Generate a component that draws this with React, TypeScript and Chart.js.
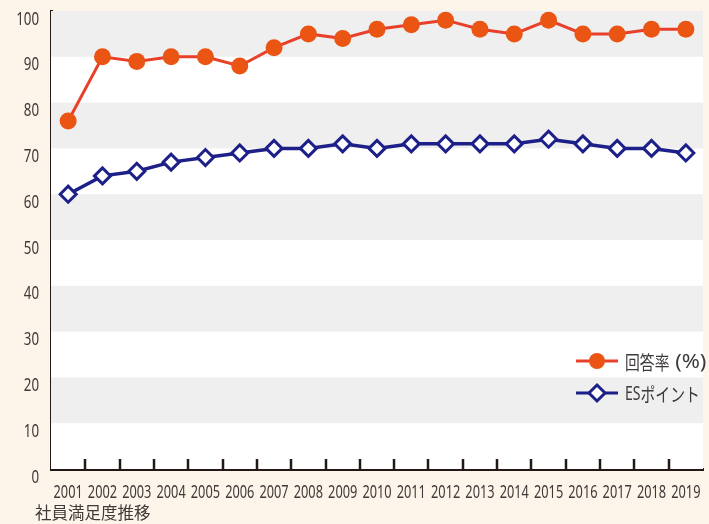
import React, { useEffect, useRef } from "react";
import { Chart, registerables } from "chart.js";

Chart.register(...registerables);

const years = ["2001","2002","2003","2004","2005","2006","2007","2008","2009","2010","2011","2012","2013","2014","2015","2016","2017","2018","2019"];
const responseRate = [76, 90, 89, 90, 90, 88, 92, 95, 94, 96, 97, 98, 96, 95, 98, 95, 95, 96, 96];
const esPoints = [60, 64, 65, 67, 68, 69, 70, 70, 71, 70, 71, 71, 71, 71, 72, 71, 70, 70, 69];
const yTickValues = [0, 10, 20, 30, 40, 50, 60, 70, 80, 90, 100];
const seriesNames = ["回答率 (%)", "ESポイント"];
const caption = "社員満足度推移";

const FONT = '"Noto Sans", "Open Sans", sans-serif';
const CJK_FONT = '"Noto Sans CJK JP", "Noto Sans", sans-serif';
const TEXT = "#3e3a39";
const AXIS = "#231815";
const ORANGE_LINE = "#e8402a";
const ORANGE_PT = "#ea5514";
const NAVY = "#1d2088";
const BAND = "#efefef";
const CREAM = "#fdf5e9";

function drawCondensed(ctx: CanvasRenderingContext2D, text: string, x: number, y: number, align: CanvasTextAlign, sx: number, font: string) {
  ctx.save();
  ctx.font = font;
  ctx.textAlign = align;
  ctx.textBaseline = "middle";
  ctx.fillStyle = TEXT;
  ctx.scale(sx, 1);
  ctx.fillText(text, x / sx, y);
  ctx.restore();
}

// mixed text: CJK, latin letters and symbols each get their own horizontal scale
function drawMixed(ctx: CanvasRenderingContext2D, text: string, x: number, y: number) {
  const runs = text.match(/[\u3000-\u9fff\uff00-\uffef]+|[A-Za-z0-9]+|[^A-Za-z0-9\u3000-\u9fff\uff00-\uffef]+/g) || [];
  let cx = x;
  for (const run of runs) {
    let font = `19px ${FONT}`;
    let sx = 1.15;
    if (/[\u3000-\u9fff\uff00-\uffef]/.test(run)) { font = `19px ${CJK_FONT}`; sx = 0.78; }
    else if (/[A-Za-z0-9]/.test(run)) { sx = 0.74; }
    ctx.save();
    ctx.font = font;
    const w = ctx.measureText(run).width * sx;
    ctx.restore();
    drawCondensed(ctx, run, cx, y, "left", sx, font);
    cx += w;
  }
}

const bandsPlugin = {
  id: "bands",
  beforeDatasetsDraw(chart: any) {
    const { ctx, chartArea } = chart;
    const y = chart.scales.y;
    ctx.save();
    ctx.fillStyle = "#ffffff";
    ctx.fillRect(chartArea.left, chartArea.top, chartArea.right - chartArea.left, chartArea.bottom - chartArea.top);
    ctx.fillStyle = BAND;
    for (let v = 10; v < 100; v += 20) {
      const top = y.getPixelForValue(v + 10);
      const bot = y.getPixelForValue(v);
      ctx.fillRect(chartArea.left, top, chartArea.right - chartArea.left, bot - top);
    }
    ctx.restore();
  },
};

const axisLabelsPlugin = {
  id: "axisLabels",
  afterDraw(chart: any) {
    const { ctx, chartArea } = chart;
    const x = chart.scales.x;
    const y = chart.scales.y;
    ctx.save();
    ctx.strokeStyle = AXIS;
    ctx.lineWidth = 2.5;
    for (let i = 1; i < years.length; i++) {
      const px = Math.round((x.getPixelForValue(i - 1) + x.getPixelForValue(i)) / 2);
      ctx.beginPath();
      ctx.moveTo(px, chartArea.bottom - 10);
      ctx.lineTo(px, chartArea.bottom);
      ctx.stroke();
    }
    ctx.restore();
    years.forEach((lab, i) => {
      drawCondensed(ctx, lab, x.getPixelForValue(i), chartArea.bottom + 24, "center", 0.69, `18.5px ${FONT}`);
    });
    yTickValues.forEach((v) => {
      drawCondensed(ctx, String(v), chartArea.left - 12, y.getPixelForValue(v) + 8.5, "right", 0.74, `18px ${FONT}`);
    });
  },
};

const legendPlugin = {
  id: "customLegend",
  afterDatasetsDraw(chart: any) {
    const { ctx } = chart;
    const x0 = 576, x1 = 618, mx = 597, tx = 625;
    const rows = [361, 393];
    ctx.save();
    ctx.strokeStyle = ORANGE_LINE;
    ctx.lineWidth = 3;
    ctx.beginPath(); ctx.moveTo(x0, rows[0]); ctx.lineTo(x1, rows[0]); ctx.stroke();
    ctx.fillStyle = ORANGE_PT;
    ctx.beginPath(); ctx.arc(mx, rows[0], 8, 0, Math.PI * 2); ctx.fill();
    ctx.strokeStyle = NAVY;
    ctx.lineWidth = 3;
    ctx.beginPath(); ctx.moveTo(x0, rows[1]); ctx.lineTo(x1, rows[1]); ctx.stroke();
    ctx.fillStyle = "#ffffff";
    const r = 8;
    ctx.beginPath();
    ctx.moveTo(mx, rows[1] - r); ctx.lineTo(mx + r, rows[1]); ctx.lineTo(mx, rows[1] + r); ctx.lineTo(mx - r, rows[1]); ctx.closePath();
    ctx.fill(); ctx.stroke();
    ctx.restore();
    drawMixed(ctx, seriesNames[0], tx, rows[0] + 2);
    drawMixed(ctx, seriesNames[1], tx, rows[1] + 2);
  },
};

export default function App() {
  const ref = useRef<HTMLCanvasElement | null>(null);
  useEffect(() => {
    if (!ref.current) return;
    const chart = new Chart(ref.current, {
      type: "line",
      data: {
        labels: years,
        datasets: [
          {
            label: seriesNames[0],
            data: responseRate,
            borderColor: ORANGE_LINE,
            borderWidth: 3,
            pointBackgroundColor: ORANGE_PT,
            pointBorderColor: ORANGE_PT,
            pointBorderWidth: 0,
            pointRadius: 8.5,
            pointStyle: "circle",
            tension: 0,
          },
          {
            label: seriesNames[1],
            data: esPoints,
            borderColor: NAVY,
            borderWidth: 3.5,
            pointBackgroundColor: "#ffffff",
            pointBorderColor: NAVY,
            pointBorderWidth: 3,
            pointRadius: 8,
            pointStyle: "rectRot",
            tension: 0,
          },
        ],
      },
      options: {
        responsive: false,
        animation: false,
        devicePixelRatio: 1,
        layout: { padding: { top: 8, right: 0, left: 0, bottom: 0 } },
        plugins: { legend: { display: false }, tooltip: { enabled: false } },
        scales: {
          x: {
            offset: true,
            grid: { display: false, offset: true },
            border: { display: true, width: 3, color: AXIS },
            ticks: { display: false, autoSkip: false },
            afterFit(scale: any) {
              scale.height = 55;
              scale.paddingLeft = 0;
              scale.paddingRight = 0;
            },
          },
          y: {
            min: 0,
            max: 100,
            grid: { display: false },
            border: { display: true, width: 3, color: AXIS },
            ticks: { display: false, stepSize: 10 },
            afterFit(scale: any) {
              scale.width = 51;
              scale.paddingTop = 0;
              scale.paddingBottom = 0;
            },
          },
        },
      },
      plugins: [bandsPlugin, axisLabelsPlugin, legendPlugin],
    });
    return () => chart.destroy();
  }, []);

  return (
    <div style={{ position: "fixed", left: 0, top: 0, width: 709, height: 524, overflow: "hidden", background: CREAM }}>
      <canvas ref={ref} width={714} height={524} style={{ display: "block" }} />
      <div style={{ position: "absolute", left: 35, top: 502, fontFamily: CJK_FONT, fontSize: 16.5, color: TEXT, lineHeight: "20px", whiteSpace: "nowrap" }}>{caption}</div>
    </div>
  );
}
